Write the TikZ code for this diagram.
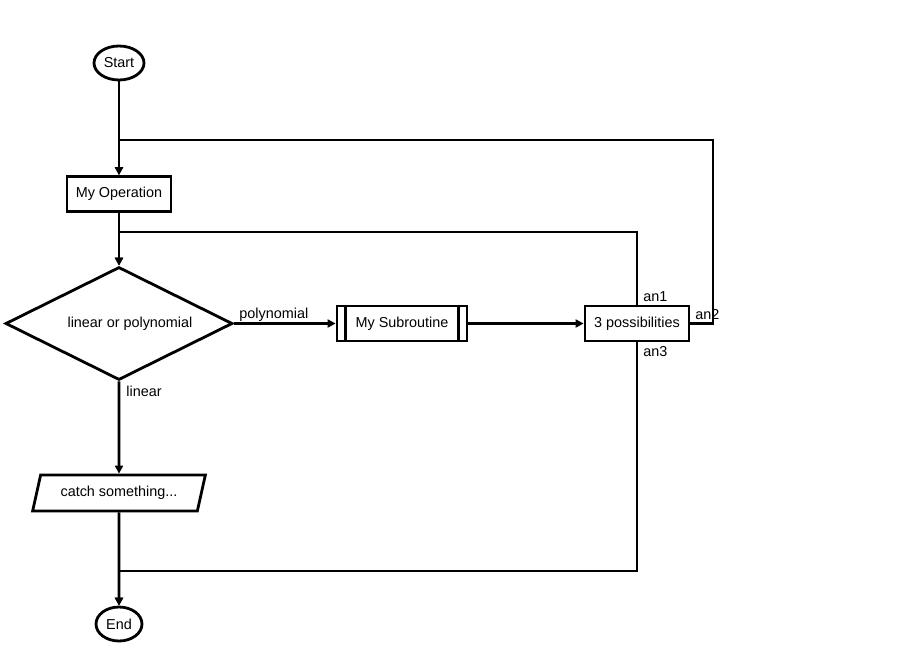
\documentclass[tikz,border=0pt]{standalone}
\usepackage{fontspec}
\setmainfont{Liberation Sans}
\usetikzlibrary{shapes.geometric,arrows.meta}
\begin{document}
\begin{tikzpicture}[x=1pt,y=-1pt,line width=2.8pt,line join=miter,
  font=\fontsize{14.4}{16}\selectfont,
  >={Triangle[length=8pt,width=8pt]}]
\tikzset{
  term/.style={ellipse,draw,minimum width=50pt,minimum height=34pt,inner sep=0pt},
  proc/.style={rectangle,draw,minimum width=104pt,minimum height=35pt,inner sep=0pt},
  dec/.style={diamond,draw,aspect=2,minimum width=227pt,minimum height=113pt,inner sep=0pt},
  io/.style={trapezium,draw,trapezium left angle=66,trapezium right angle=114,
    trapezium stretches=true,minimum width=173pt,minimum height=36pt,inner sep=0pt},
  sub/.style={rectangle,draw,minimum width=130pt,minimum height=35pt,inner sep=0pt},
  lbl/.style={inner sep=0pt,anchor=base west}
}
\useasboundingbox (0,0) rectangle (899,645);
\node[term] (start) at (119,63) {Start};
\node[proc] (op) at (119,194) {My Operation};
\node[dec] (dec) at (119,323.5) {\hspace*{22pt}linear or polynomial};
\node[sub] (sub) at (402,323.5) {My Subroutine};
\draw ([xshift=10pt]sub.north west) -- ([xshift=10pt]sub.south west);
\draw ([xshift=-10pt]sub.north east) -- ([xshift=-10pt]sub.south east);
\node[proc] (poss) at (637,323.5) {3 possibilities};
\node[io] (catch) at (119,493) {catch something...};
\node[term,minimum width=46pt] (end) at (119,624) {End};
\coordinate (j1) at (119,232);
\coordinate (j2) at (713,140);
\coordinate (j3) at (637,571);
\draw[->] (start) -- (op);
\draw[->] (op) -- (dec);
\draw[->] (dec) -- (sub);
\node[lbl] (lpoly) at (238,318) {polynomial};
\draw[->] (sub) -- (poss);
\draw[->] (dec) -- (catch);
\node[lbl] (llin) at (125,396) {linear};
\draw[->] (catch) -- (end);
\draw[->] (poss.north) |- (j1) -- (dec.north);
\draw[->] (poss.east) -| (j2) -| (op.north);
\draw[->] (poss.south) -- (j3) -| (end.north);
\node[lbl] (lan1) at (642,301) {an1};
\node[lbl] (lan2) at (694,319) {an2};
\node[lbl] (lan3) at (642,356) {an3};
\end{tikzpicture}
\end{document}
